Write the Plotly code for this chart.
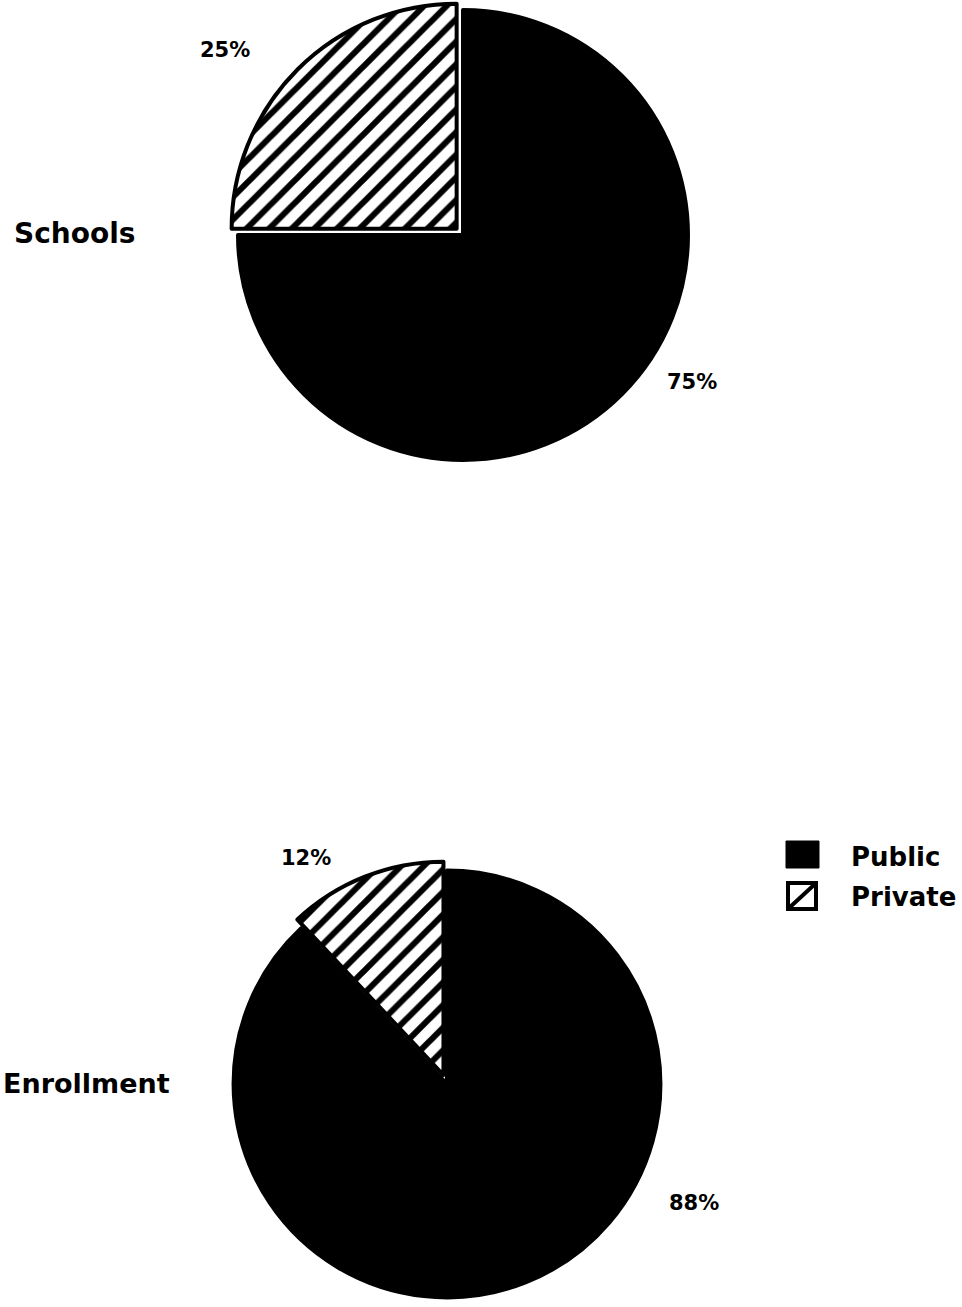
import plotly.graph_objects as go

W, H = 962, 1307

categories = ["Public", "Private"]
schools_pct = [75, 25]
enrollment_pct = [88, 12]
row_titles = ["Schools", "Enrollment"]

FONT = dict(family="DejaVu Sans, Liberation Sans, Arial, sans-serif", color="black", weight="bold")

def px_dom(cx, cy, half):
    return dict(x=[(cx - half) / W, (cx + half) / W],
                y=[max(0, (H - cy - half) / H), min(1, (H - cy + half) / H)])

marker = dict(
    colors=["black", "white"],
    line=dict(color="black", width=4),
    pattern=dict(shape=["", "/"], fgcolor=["black", "black"],
                 bgcolor=["black", "white"], size=16, solidity=0.38),
)

fig = go.Figure()
pull_top = 0.04
fig.add_trace(go.Pie(
    labels=categories, values=schools_pct, sort=False, direction="clockwise",
    rotation=0, pull=[0, pull_top], marker=marker, textinfo="none",
    hoverinfo="label+percent", showlegend=False,
    domain=px_dom(463, 235, 234),
))
pull_bot = 0.045
fig.add_trace(go.Pie(
    labels=categories, values=enrollment_pct, sort=False, direction="clockwise",
    rotation=0, pull=[0, pull_bot], marker=marker, textinfo="none",
    hoverinfo="label+percent", showlegend=False,
    domain=px_dom(447, 1084, 223),
))

ann = []
def add_text(x, y, text, size, xanchor="center"):
    ann.append(dict(x=x / W, y=1 - y / H, xref="paper", yref="paper", text=text,
                    showarrow=False, xanchor=xanchor, yanchor="middle",
                    font=dict(size=size, **FONT)))

# percentage labels
add_text(225, 50, f"{schools_pct[1]}%", 21)
add_text(692, 382, f"{schools_pct[0]}%", 21)
add_text(306, 858, f"{enrollment_pct[1]}%", 21)
add_text(694, 1203, f"{enrollment_pct[0]}%", 21)

# row titles
add_text(74, 233, row_titles[0], 28)
add_text(1, 1083, row_titles[1], 27, xanchor="left")

# legend
add_text(849, 857, categories[0], 26, xanchor="left")
add_text(849, 897, categories[1], 26, xanchor="left")

shapes = [
    dict(type="rect", xref="paper", yref="paper",
         x0=786 / W, x1=819 / W, y0=1 - 868 / H, y1=1 - 841 / H,
         fillcolor="black", line=dict(color="black", width=1)),
    dict(type="rect", xref="paper", yref="paper",
         x0=788 / W, x1=816 / W, y0=1 - 909 / H, y1=1 - 883 / H,
         fillcolor="white", line=dict(color="black", width=4)),
    dict(type="line", xref="paper", yref="paper",
         x0=789 / W, x1=815 / W, y0=1 - 908 / H, y1=1 - 884 / H,
         line=dict(color="black", width=4)),
]

fig.update_layout(
    width=W, height=H, margin=dict(l=0, r=0, t=0, b=0),
    paper_bgcolor="white", plot_bgcolor="white",
    annotations=ann, shapes=shapes,
)

fig.write_html("out.html")
